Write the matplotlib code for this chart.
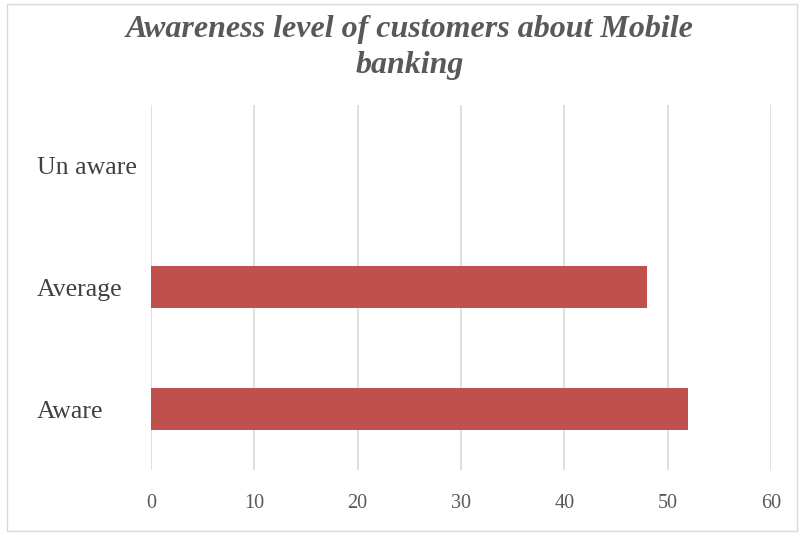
import matplotlib.pyplot as plt
import matplotlib.patches as patches

categories = ['Aware', 'Average', 'Un aware']
values = [52, 48, 0]
xticks = [0, 10, 20, 30, 40, 50, 60]

fig = plt.figure(figsize=(7.99, 5.35), dpi=100)
ax = fig.add_axes([0.189, 0.1215, 0.776, 0.6825])

ax.barh(range(len(categories)), values, height=0.345, color='#C0504D')

ax.set_xlim(0, 60)
ax.set_ylim(-0.5, len(categories) - 0.5)
ax.set_xticks(xticks)
ax.set_yticks(range(len(categories)))
ax.set_yticklabels(categories)

ax.tick_params(axis='both', length=0)
ax.tick_params(axis='x', pad=17)
ax.tick_params(axis='y', pad=82)

for lab in ax.get_yticklabels():
    lab.set_fontfamily('Liberation Serif')
    lab.set_fontsize(18.5)
    lab.set_color('#404040')
    lab.set_horizontalalignment('left')
for lab in ax.get_xticklabels():
    lab.set_fontfamily('Liberation Serif')
    lab.set_fontsize(14.5)
    lab.set_color('#595959')

ax.grid(axis='x', color='#D9D9D9', linewidth=1.2)
ax.set_axisbelow(True)
for s in ax.spines.values():
    s.set_visible(False)

fig.text(0.513, 0.912, 'Awareness level of customers about Mobile\nbanking',
         ha='center', va='center', fontfamily='Liberation Serif',
         fontsize=23, fontweight='bold', fontstyle='italic', color='#595959',
         linespacing=1.32)

# thin border around the whole chart area
fig.add_artist(patches.Rectangle((0.009, 0.008), 0.988, 0.985, transform=fig.transFigure,
                                 fill=False, edgecolor='#D9D9D9', linewidth=1))

fig.savefig('out.png', dpi=100)
